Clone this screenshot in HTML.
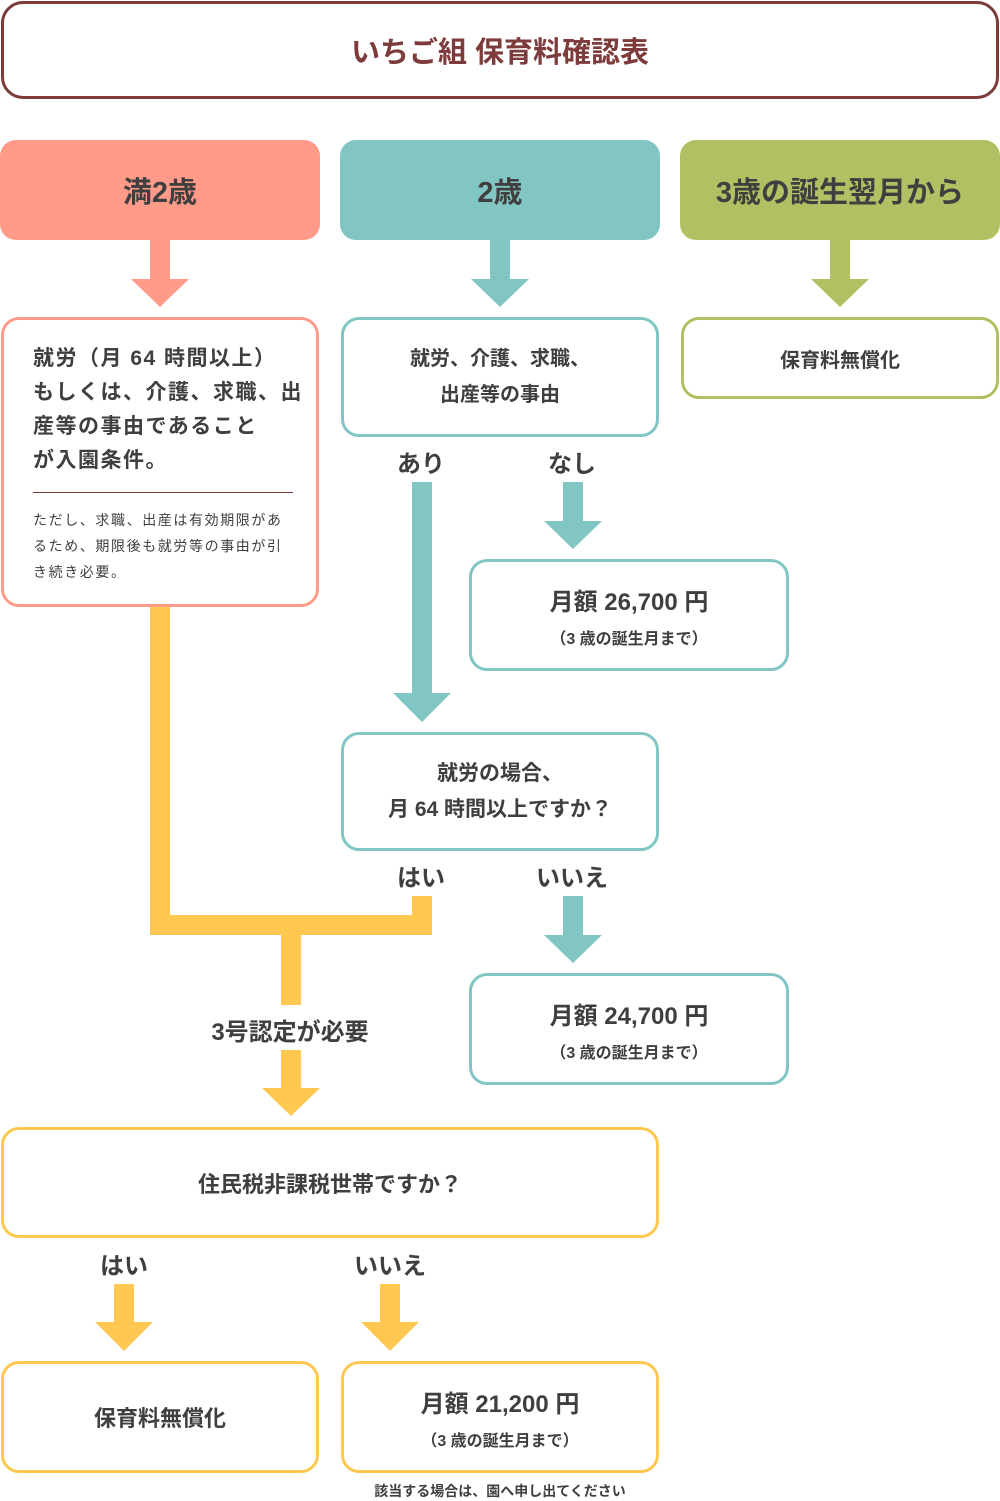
<!DOCTYPE html>
<html><head><meta charset="utf-8"><style>
body{margin:0;width:1000px;height:1500px;background:#fff;position:relative;font-family:"Liberation Sans","Noto Sans CJK JP",sans-serif;color:#3f3f3f;font-weight:bold;overflow:hidden}
div{position:absolute;box-sizing:border-box}
.b{border:3px solid;border-radius:18px;background:#fff;display:flex;flex-direction:column;align-items:center;justify-content:center;text-align:center}
.h{border-radius:16px;display:flex;align-items:center;justify-content:center;font-size:29px}
.t{font-size:24px;white-space:nowrap;transform:translateX(-50%)}
</style></head><body>
<div class="b" style="left:1px;top:1px;width:998px;height:98px;border-color:#7d3b3b;border-radius:22px;color:#7d3b3b;font-size:29px">いちご組 保育料確認表</div>

<div class="h" style="left:0;top:140px;width:320px;height:100px;background:#ff9b88">満2歳</div>
<div class="h" style="left:340px;top:140px;width:320px;height:100px;background:#81c6c3">2歳</div>
<div class="h" style="left:680px;top:140px;width:320px;height:100px;background:#b0c062">3歳の誕生翌月から</div>

<svg width="1000" height="1500" style="position:absolute;left:0;top:0">
<g fill="#ff9b88"><rect x="150" y="240" width="20" height="40"/><polygon points="131,279 189,279 160,307"/></g>
<g fill="#81c6c3"><rect x="490" y="240" width="20" height="40"/><polygon points="471,279 529,279 500,307"/>
<rect x="412" y="482" width="20" height="212"/><polygon points="393,693 451,693 422,722"/>
<rect x="563" y="482" width="20" height="40"/><polygon points="544,521 602,521 573,549"/>
<rect x="563" y="896" width="20" height="40"/><polygon points="544,935 602,935 573,963"/></g>
<g fill="#b0c062"><rect x="830" y="240" width="20" height="40"/><polygon points="811,279 869,279 840,307"/></g>
<g fill="#ffc851"><rect x="150" y="606" width="20" height="329"/><rect x="150" y="915" width="282" height="20"/><rect x="412" y="896" width="20" height="39"/>
<rect x="281" y="935" width="20" height="70"/><rect x="281" y="1050" width="20" height="40"/><polygon points="262,1088 320,1088 291,1116"/>
<rect x="114" y="1284" width="20" height="40"/><polygon points="95,1322 153,1322 124,1351"/>
<rect x="380" y="1284" width="20" height="40"/><polygon points="361,1322 419,1322 390,1351"/></g>
</svg>

<div class="b" style="left:1px;top:317px;width:318px;height:290px;border-color:#ff9b88;align-items:flex-start;justify-content:flex-start;text-align:left;padding:22px 0 0 29px">
<div style="position:static;font-size:21px;line-height:34px;letter-spacing:1.5px;white-space:nowrap">就労（月 64 時間以上）<br>もしくは、介護、求職、出<br>産等の事由であること<br>が入園条件。</div>
<div style="position:static;width:260px;border-top:1.5px solid #7d3b3b;margin-top:14px"></div>
<div style="position:static;font-size:14px;font-weight:normal;line-height:26px;margin-top:14px;white-space:nowrap;letter-spacing:1.6px">ただし、求職、出産は有効期限があ<br>るため、期限後も就労等の事由が引<br>き続き必要。</div>
</div>
<div class="b" style="left:341px;top:317px;width:318px;height:120px;border-color:#81c6c3;font-size:20px;line-height:36px">就労、介護、求職、<br>出産等の事由</div>
<div class="b" style="left:681px;top:317px;width:318px;height:82px;border-color:#b0c062;font-size:20px">保育料無償化</div>

<div class="t" style="left:421px;top:444px">あり</div>
<div class="t" style="left:572px;top:444px">なし</div>

<div class="b" style="left:469px;top:559px;width:320px;height:112px;border-color:#81c6c3"><div style="position:static;font-size:24px">月額 26,700 円</div><div style="position:static;font-size:16px;margin-top:8px">（3 歳の誕生月まで）</div></div>

<div class="b" style="left:341px;top:732px;width:318px;height:119px;border-color:#81c6c3;font-size:21px;line-height:36px">就労の場合、<br>月 64 時間以上ですか？</div>
<div class="t" style="left:421px;top:858px">はい</div>
<div class="t" style="left:572px;top:858px">いいえ</div>

<div class="b" style="left:469px;top:973px;width:320px;height:112px;border-color:#81c6c3"><div style="position:static;font-size:24px">月額 24,700 円</div><div style="position:static;font-size:16px;margin-top:8px">（3 歳の誕生月まで）</div></div>

<div class="t" style="left:290px;top:1012px">3号認定が必要</div>

<div class="b" style="left:1px;top:1127px;width:658px;height:111px;border-color:#ffc851;font-size:22px">住民税非課税世帯ですか？</div>
<div class="t" style="left:124px;top:1246px">はい</div>
<div class="t" style="left:390px;top:1246px">いいえ</div>

<div class="b" style="left:1px;top:1361px;width:318px;height:112px;border-color:#ffc851;font-size:22px">保育料無償化</div>
<div class="b" style="left:341px;top:1361px;width:318px;height:112px;border-color:#ffc851"><div style="position:static;font-size:24px">月額 21,200 円</div><div style="position:static;font-size:16px;margin-top:8px">（3 歳の誕生月まで）</div></div>
<div class="t" style="left:500px;top:1481px;font-size:14px">該当する場合は、園へ申し出てください</div>
</body></html>
